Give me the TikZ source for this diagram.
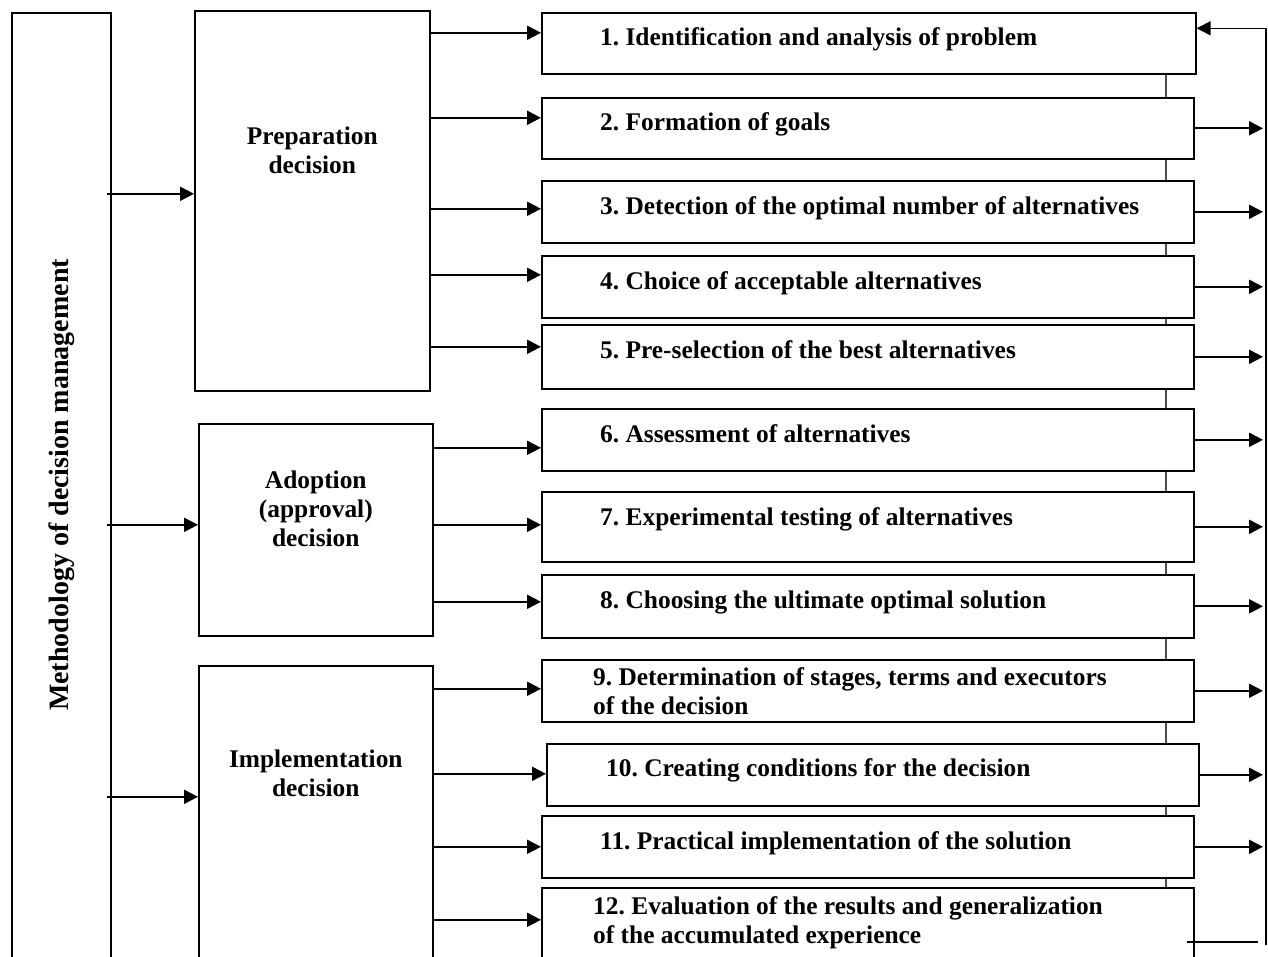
\documentclass[tikz,border=0pt]{standalone}
\usepackage{fontspec}
\setmainfont{Liberation Serif}
\usetikzlibrary{arrows.meta}
\frenchspacing

\begin{document}
\begin{tikzpicture}[x=1pt,y=-1pt]
    \tikzstyle{stepbox}=[draw, fill=white, line width=1.6pt, anchor=north west, inner sep=0pt]
    \tikzstyle{steptext}=[anchor=west, align=left, inner sep=0pt, yshift=4pt, font=\fontsize{25.4}{29}\selectfont\bfseries]
    \tikzstyle{stagebox}=[draw, line width=1.6pt, anchor=north west, inner sep=0pt]
    \tikzstyle{stagetext}=[align=center, inner sep=0pt, font=\fontsize{25.4}{29}\selectfont\bfseries]
    \tikzstyle{arr}=[line width=2pt, -{Triangle[length=14pt,width=14pt]}]
    \useasboundingbox (0,0) rectangle (1268,956);

    \node[stagebox, minimum width=99pt, minimum height=1000pt] (method) at (11,12) {};
    \node[rotate=90, inner sep=0pt, font=\fontsize{28}{32}\selectfont\bfseries] (methodtext) at (62,485) {Methodology of decision management};

    \node[stagebox, minimum width=235pt, minimum height=380pt] (prep) at (194,10) {};
    \node[stagebox, minimum width=234pt, minimum height=212pt] (adopt) at (198,423) {};
    \node[stagebox, minimum width=234pt, minimum height=340pt] (impl) at (198,665) {};
    \node[stagetext] (preptext) at ([yshift=-140pt]prep.north) {Preparation\\decision};
    \node[stagetext] (adopttext) at ([yshift=-86pt]adopt.north) {Adoption\\(approval)\\decision};
    \node[stagetext] (impltext) at ([yshift=-108pt]impl.north) {Implementation\\decision};

    % the twelve steps
    \foreach \n/\px/\py/\bw/\bh in {1/541/12/654/61, 2/541/97/652/61, 3/541/180/652/62, 4/541/255/652/62,
            5/541/324/652/64, 6/541/408/652/62, 7/541/491/652/70, 8/541/574/652/63,
            9/541/659/652/62, 10/546/743/652/62, 11/541/815/652/62, 12/541/887/652/74}
        \node[stepbox, minimum width=\bw pt, minimum height=\bh pt] (s\n) at (\px,\py) {};

    \node[steptext] (t1) at ([xshift=59pt]s1.west) {1. Identification and analysis of problem};
    \node[steptext] (t2) at ([xshift=59pt]s2.west) {2. Formation of goals};
    \node[steptext] (t3) at ([xshift=59pt]s3.west) {3. Detection of the optimal number of alternatives};
    \node[steptext] (t4) at ([xshift=59pt]s4.west) {4. Choice of acceptable alternatives};
    \node[steptext] (t5) at ([xshift=59pt, yshift=3pt]s5.west) {5. Pre-selection of the best alternatives};
    \node[steptext] (t6) at ([xshift=59pt, yshift=2pt]s6.west) {6. Assessment of alternatives};
    \node[steptext] (t7) at ([xshift=59pt, yshift=3pt]s7.west) {7. Experimental testing of alternatives};
    \node[steptext] (t8) at ([xshift=59pt]s8.west) {8. Choosing the ultimate optimal solution};
    \node[steptext, yshift=-4pt] (t9) at ([xshift=52pt]s9.west) {9. Determination of stages, terms and executors\\of the decision};
    \node[steptext] (t10) at ([xshift=60pt]s10.west) {10. Creating conditions for the decision};
    \node[steptext] (t11) at ([xshift=59pt]s11.west) {11. Practical implementation of the solution};
    \node[steptext, yshift=-2pt] (t12) at ([xshift=52pt]s12.west) {12. Evaluation of the results and generalization\\of the accumulated experience};

    % links between the steps
    \coordinate (spine) at (1166,0);
    \foreach \n [count=\m from 2] in {1,...,11}
        \draw[line width=1.2pt, black!70] (s\n.south -| spine) -- (s\m.north -| spine);

    % method -> stages
    \foreach \g/\d in {prep/7, adopt/5, impl/39}{
        \coordinate (b\g) at ([yshift=\d pt]\g.west);
        \draw[arr] (method.east |- b\g) ++(-5,0) -- (b\g);
    }

    % stages -> steps
    \foreach \n/\g/\d in {1/prep/10.5, 2/prep/10.5, 3/prep/3, 4/prep/12, 5/prep/10, 6/adopt/-8,
            7/adopt/2, 8/adopt/4.5, 9/impl/2, 10/impl/1, 11/impl/0, 12/impl/5}{
        \coordinate (a\n) at ([yshift=\d pt]s\n.west);
        \draw[arr] (\g.east |- a\n) -- (a\n);
    }

    % feedback
    \coordinate (retbot) at (1266,945);
    \coordinate (reach) at (1263,945);
    \coordinate (in1) at ([yshift=15pt]s1.east);
    \draw[arr, line width=1.6pt] (retbot) |- (in1);
    \foreach \n in {2,...,11}
        \draw[arr] (s\n.east) -- (s\n.east -| reach);
    \coordinate (tail) at (1258,942);
    \draw[line width=1.2pt] (s12.east |- tail) ++(-8,0) -- (tail);
\end{tikzpicture}
\end{document}
